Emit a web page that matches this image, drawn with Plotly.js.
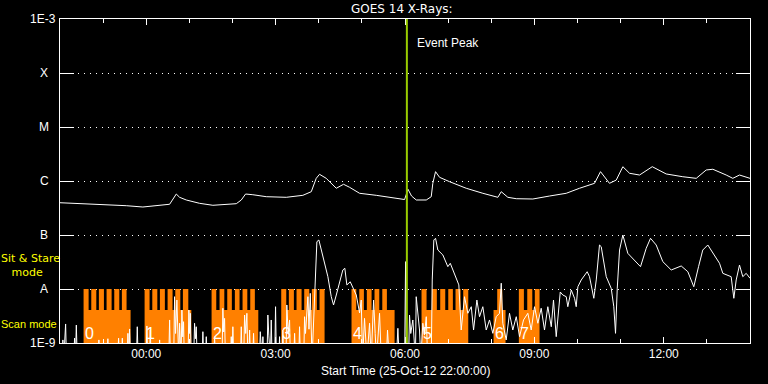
<!DOCTYPE html>
<html><head><meta charset="utf-8">
<script src="https://cdn.plot.ly/plotly-3.0.1.min.js"></script>
<style>html,body{margin:0;padding:0;background:#000;}#chart{width:768px;height:384px;}</style>
</head><body><div id="chart"></div>
<script>
// Start time 2012-10-25 22:00; times below are minutes after start
const startUTC = Date.UTC(2012, 9, 25, 22, 0, 0);
const spanMin = 960;

// GOES 14 long channel (1-8 A), W/m^2
const longMin = [0,45.8,92.2,115.3,138.6,152.5,161.8,166.4,175.7,194.2,212.7,231.3,245.3,252.2,258.2,268.3,287.0,314.8,337.9,349.6,356.5,361.1,370.4,384.4,391.3,394.5,402.9,416.8,440.0,463.1,479.4,484.2,489.1,495.7,509.6,516.5,518.7,522.5,528.1,542.0,565.2,588.3,609.2,613.9,623.1,634.8,657.9,681.1,704.3,722.8,743.7,752.0,764.5,773.9,783.1,792.4,806.3,824.0,843.4,866.5,885.2,899.1,908.3,926.9,936.1,945.4,954.7,960];
const longFlux = [3.96e-7,3.75e-7,3.49e-7,3.30e-7,3.49e-7,3.71e-7,5.74e-7,4.99e-7,4.45e-7,3.86e-7,3.55e-7,3.64e-7,3.80e-7,4.45e-7,5.74e-7,5.57e-7,5.12e-7,4.99e-7,5.43e-7,6.34e-7,1.12e-6,1.33e-6,1.12e-6,7.33e-7,8.07e-7,8.69e-7,7.64e-7,5.92e-7,5.43e-7,4.84e-7,4.54e-7,7.02e-7,5.27e-7,4.45e-7,4.45e-7,5.12e-7,9.06e-7,1.49e-6,1.17e-6,9.71e-7,7.33e-7,5.92e-7,4.99e-7,6.34e-7,4.99e-7,4.70e-7,4.64e-7,5.27e-7,5.92e-7,7.33e-7,9.06e-7,1.49e-6,9.06e-7,1.04e-6,1.84e-6,1.39e-6,1.29e-6,1.84e-6,1.35e-6,1.20e-6,1.12e-6,1.60e-6,1.65e-6,1.29e-6,1.12e-6,1.29e-6,1.17e-6,1.12e-6];

// GOES 14 short channel (0.5-4 A), W/m^2 (5e-10 = below 1E-9)
const shortMin = [0,3,4.0,5.2,7.8,9,19,20.3,21.5,22.7,24,53,54.1,55.3,65.4,66.6,67.8,80.3,81.5,82.7,85.5,86.7,87.9,93.3,94.5,95.6,96.8,98,106.3,107.5,108.7,119.7,120.9,122.1,124.4,125.6,126.8,137.4,138.6,139.8,151.3,152.5,153.7,158.2,159.4,160.8,162.6,164,165.2,166.4,167.6,168.4,169.6,170.8,171.9,173,178.1,179.3,180.3,181.3,182.5,186,187.2,188.4,189.6,190.8,197.6,198.8,200,202.3,203.5,204.7,213.9,215.1,216.3,225.4,226.6,227.8,229.0,230.2,237.1,238.3,239.4,240.5,241.7,251,252.2,253.4,255.6,256.8,258.4,260.0,261.4,262.6,263.8,265,268.1,269.3,270.5,277.4,278.6,279.8,281.1,282.3,283.5,288,289.2,290.5,292.7,293.9,295.1,298.7,299.9,301.1,304.3,305.5,306.7,308.9,310.1,311.3,314.4,315.6,317.4,319.4,320.6,325.2,326.4,327.6,332.1,333.3,334.5,339.1,340.3,341.6,344.9,346.4,348.2,350.7,354.2,357.4,360.2,365.7,372.7,377.4,380.6,384.4,389.0,393.5,396.3,399.1,403.8,407.5,412.2,416.8,419.1,421,423.7,427,430.7,433,436.3,438.5,440.4,444.6,447,454,455.7,458,468,470.1,472,479.5,480.8,482.0,485,486.3,488,490.9,493,494.5,495.6,497.9,500.2,502,504.8,507,509.6,511.5,516.5,517.9,520.1,522.5,525.7,532.7,539.6,543.0,546.6,551.3,554.9,556.9,558.2,562.8,567.4,572.2,575.4,580.0,583.7,588.3,593.0,597.6,602.2,606.9,611.5,613.9,616.1,620.8,625.4,630.0,634.8,639.4,644.9,650.9,655.6,660.2,664.8,669.5,674.1,678.7,683.5,686.6,690.4,696.0,699.6,704.3,706.5,711.3,715.9,718.2,720.5,725.2,733.5,736.7,742.7,746.1,750.6,753.0,760.0,766.9,770.5,772.9,775.3,778.5,783.1,790.0,799.3,807.7,815.6,821.6,829.5,838.7,850.4,864.3,873.5,881.8,888.4,894.3,901.3,908.3,917.6,922.2,933.8,937.5,940.8,945.4,950.0,954.7,960];
const shortFlux = [5e-10,5e-10,1.14e-9,5e-10,2.25e-9,5e-10,5e-10,1.23e-9,5e-10,2.15e-9,5e-10,5e-10,1.14e-9,5e-10,5e-10,1.2e-9,5e-10,5e-10,1.23e-9,5e-10,5e-10,1.23e-9,5e-10,5e-10,1.51e-9,5e-10,1.82e-9,5e-10,5e-10,2.0e-9,5e-10,5e-10,2.07e-9,5e-10,5e-10,1.74e-9,5e-10,5e-10,1.14e-9,5e-10,5e-10,2.67e-9,5e-10,5e-10,7.2e-9,1.5e-9,6.25e-9,5e-10,5e-10,2.32e-9,5e-10,5e-10,4.08e-9,1.3e-9,2.48e-9,5e-10,5e-10,4.08e-9,1.5e-9,3.55e-9,5e-10,5e-10,2.32e-9,1.2e-9,2.0e-9,5e-10,5e-10,1.62e-9,5e-10,5e-10,1.31e-9,5e-10,5e-10,1.31e-9,5e-10,5e-10,4.4e-9,1.6e-9,2.86e-9,5e-10,5e-10,1.31e-9,5e-10,2.0e-9,5e-10,5e-10,2.0e-9,5e-10,5e-10,3.3e-9,1.5e-9,3.55e-9,5e-10,5e-10,1.74e-9,5e-10,5e-10,1.51e-9,5e-10,5e-10,1.62e-9,5e-10,5e-10,1.31e-9,5e-10,5e-10,3.3e-9,1.4e-9,5e-10,2.67e-9,5e-10,5e-10,4.7e-9,5e-10,5e-10,1.31e-9,5e-10,5e-10,1.74e-9,5e-10,5e-10,5.06e-9,1.5e-9,2.67e-9,5e-10,5e-10,1.51e-9,5e-10,5e-10,2.0e-9,5e-10,5e-10,3.07e-9,1.5e-9,7.2e-9,1.8e-9,8.3e-9,5e-10,9.58e-9,7.52e-8,8.07e-8,3.96e-8,1.69e-8,7.2e-9,5.06e-9,7.74e-9,1.28e-8,2.25e-8,2.42e-8,1.19e-8,1.36e-8,1.03e-8,7.74e-9,3.6e-9,6.25e-9,5e-10,2.86e-9,5e-10,2.32e-9,5e-10,6.25e-9,1.5e-9,5e-10,3.55e-9,5e-10,5e-10,1.74e-9,5e-10,5e-10,1.87e-9,5e-10,5e-10,3.21e-8,5e-10,5e-10,3.3e-9,1.5e-9,2.67e-9,5e-10,5e-10,7.2e-9,3.8e-9,1.74e-9,5e-10,2.32e-9,1.4e-9,3.07e-9,5e-10,5e-10,1.47e-8,8.07e-8,8.69e-8,5.27e-8,4.26e-8,2.59e-8,2.99e-8,2.25e-8,1.47e-8,1.19e-8,3.6e-9,1.74e-9,7.2e-9,3.55e-9,4.7e-9,1.74e-9,6.25e-9,3.07e-9,4.7e-9,1.74e-9,2.67e-9,1.51e-9,3.07e-9,3.55e-9,1.28e-8,2.32e-9,1.14e-9,3.55e-9,1.74e-9,3.07e-9,1.31e-9,2.67e-9,3.55e-9,1.74e-9,4.7e-9,2.32e-9,4.4e-9,1.74e-9,4.7e-9,2.0e-9,6.25e-9,1.31e-9,8.8e-9,7.74e-9,7.2e-9,4.7e-9,9.58e-9,6.73e-9,4.7e-9,1.1e-8,1.47e-8,2.09e-8,1.69e-8,6.73e-9,1.47e-8,6.53e-8,6.07e-8,1.69e-8,1.03e-8,4.7e-9,1.51e-9,1.03e-8,5.27e-8,1.0e-7,4.58e-8,3.44e-8,2.59e-8,5.68e-8,8.69e-8,6.53e-8,3.21e-8,2.25e-8,2.67e-8,2.09e-8,1.1e-8,2.59e-8,5.27e-8,6.53e-8,4.58e-8,2.99e-8,1.95e-8,1.69e-8,6.73e-9,1.47e-8,2.78e-8,1.69e-8,1.95e-8,1.58e-8];

// Instrument mode: 0 = none, 1 = scan mode, 2 = sit & stare mode
const modeMin = [0,32.8,39.8,43.5,50.5,54.1,61.1,64.8,71.8,75.5,82.5,86.1,92.6,98.2,
  117.7,124.6,128.4,135.4,139.0,145.9,149.7,156.6,160.4,167.4,171.0,178.5,182.7,
  210.9,217.4,222.0,228.6,232.7,239.1,243.3,249.8,254.0,260.6,264.7,271.1,275.9,
  307.8,314.8,318.4,325.4,329.1,336.1,339.8,346.8,350.4,357.4,361.1,368.1,
  405.6,412.2,416.4,422.8,426.9,433.5,437.6,444.2,448.4,454.8,465.5,
  503.0,510.0,517.4,524.3,529.0,536.0,540.2,546.6,550.3,557.3,561.0,568.0,
  603.2,608.3,615.3,619.9,
  638.4,645.4,650.1,657.1,660.6,667.2,960];
const modeLevel = [0,2,1,2,1,2,1,2,1,2,1,2,1,0,
  2,1,2,1,2,1,2,1,2,1,2,1,0,
  2,1,2,1,2,1,2,1,2,1,2,1,0,
  2,1,2,1,2,1,2,1,2,1,2,0,
  2,1,2,1,2,1,2,1,2,1,0,
  2,1,2,1,2,1,2,1,2,1,2,0,
  1,2,1,0,
  2,1,2,1,2,0,0];
const modeFlux = [1e-12, 4.1e-9, 1e-8]; // level -> plotted height

const blockLabels = ['0','1','2','3','4','5','6','7'];
const blockStartMin = [32.8,117.7,210.9,307.8,405.6,503.0,603.2,638.4];

const eventPeakMin = 482.6;

const yTickVals = [1e-9,1e-8,1e-7,1e-6,1e-5,1e-4,1e-3];
const yTickText = ['1E-9','A','B','C','M','X','1E-3'];

function toDate(m){
  const d = new Date(startUTC + m*60000);
  return d.toISOString().replace('T',' ').slice(0,19);
}

const FONT = 'Liberation Sans, Arial, sans-serif';
const DFONT = 'DejaVu Sans, sans-serif';

const traces = [
  {x: modeMin.map(toDate), y: modeLevel.map(l => modeFlux[l]), type:'scatter', mode:'lines',
   line:{shape:'hv', width:0, color:'#ff8000'}, fill:'tozeroy', fillcolor:'#ff8000', hoverinfo:'skip'},
  {x: shortMin.map(toDate), y: shortFlux, type:'scatter', mode:'lines', line:{color:'#ffffff', width:1}},
  {x: longMin.map(toDate), y: longFlux, type:'scatter', mode:'lines', line:{color:'#ffffff', width:1}}
];

const annotations = [];
yTickVals.forEach((v,i) => {
  const isNum = yTickText[i].indexOf('1E') === 0;
  annotations.push({xref:'paper', yref:'y', x:0, y:Math.log10(v), text:yTickText[i], showarrow:false,
    xanchor: isNum ? 'right' : 'center', xshift: isNum ? -2 : -16, yanchor:'middle',
    font:{family:FONT, size:12, color:'#ffffff'}});
});
blockLabels.forEach((t,i) => {
  annotations.push({xref:'x', yref:'y', x:toDate(blockStartMin[i]), y:-9, text:t, showarrow:false,
    xanchor:'left', yanchor:'bottom', xshift:-1, yshift:-1,
    font:{family:FONT, size:16, color:'#ffffff'}});
});
annotations.push({xref:'paper', yref:'paper', x:0.5, y:1, yanchor:'bottom', yshift:1, xshift:-3,
  text:'GOES 14 X-Rays:', showarrow:false, font:{family:DFONT, size:12, color:'#ffffff'}});
annotations.push({xref:'paper', yref:'paper', x:0.5, y:0, yanchor:'top', yshift:-19,
  text:'Start Time (25-Oct-12 22:00:00)', showarrow:false, font:{family:FONT, size:12, color:'#ffffff'}});
annotations.push({xref:'x', yref:'paper', x:toDate(eventPeakMin), y:0.926, xanchor:'left', yanchor:'middle', xshift:8,
  text:'Event Peak', showarrow:false, font:{family:FONT, size:12, color:'#ffffff'}});
annotations.push({xref:'paper', yref:'paper', x:0, y:0.2407, xanchor:'left', yanchor:'middle', xshift:-60,
  align:'left', borderpad:0,
  text:'Sit &amp; Stare<br>\u00a0\u00a0\u00a0mode', showarrow:false, font:{family:DFONT, size:11, color:'#ffff00'}});
annotations.push({xref:'paper', yref:'paper', x:0, y:0.059, xanchor:'left', yanchor:'middle', xshift:-60,
  borderpad:0,
  text:'Scan mode', showarrow:false, font:{family:FONT, size:11, color:'#ffff00'}});

const layout = {
  width:768, height:384,
  paper_bgcolor:'#000000', plot_bgcolor:'#000000',
  margin:{l:60, r:18, t:19, b:41, pad:0},
  showlegend:false,
  font:{family:FONT, size:12, color:'#ffffff'},
  xaxis:{type:'date', range:[toDate(0), toDate(spanMin)], tick0:'2012-10-26 00:00', dtick:3*3600000,
    tickformat:'%H:%M', ticks:'inside', ticklen:6, tickcolor:'#ffffff', tickwidth:1,
    showline:true, linecolor:'#ffffff', linewidth:1, mirror:'ticks', showgrid:false, zeroline:false,
    minor:{dtick:3600000, ticks:'inside', ticklen:4, tickcolor:'#ffffff', showgrid:false},
    tickfont:{family:FONT, size:12, color:'#ffffff'}, fixedrange:true},
  yaxis:{type:'log', range:[-9,-3], tickvals:yTickVals, showticklabels:false,
    ticks:'inside', ticklen:14, tickcolor:'#ffffff', tickwidth:1,
    showline:true, linecolor:'#ffffff', linewidth:1, mirror:'ticks',
    showgrid:true, gridcolor:'#ffffff', griddash:'1px,5px', gridwidth:1, zeroline:false, fixedrange:true},
  shapes:[{type:'line', xref:'x', yref:'paper', x0:toDate(eventPeakMin), x1:toDate(eventPeakMin), y0:0, y1:1,
    line:{color:'#99cc00', width:2}, layer:'above'}],
  annotations: annotations
};

Plotly.newPlot('chart', traces, layout, {staticPlot:true, displayModeBar:false});
</script>
</body></html>
